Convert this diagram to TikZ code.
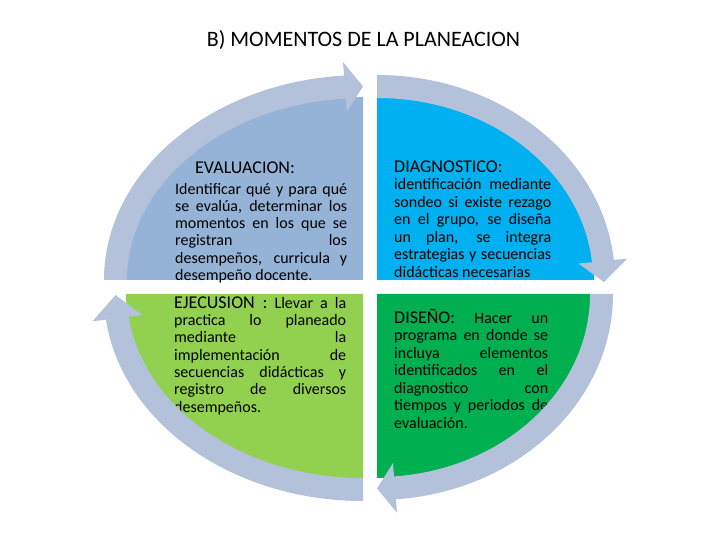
\documentclass[tikz,border=0pt]{standalone}
\usepackage{fontspec}
\setmainfont{Carlito}
\definecolor{ringc}{RGB}{179,193,219}
\definecolor{tlc}{HTML}{95B3D7}
\definecolor{trc}{HTML}{00B0F0}
\definecolor{blc}{HTML}{92D050}
\definecolor{brc}{HTML}{00B050}
\newcommand\jl[2]{\makebox[#1pt][s]{#2}}
\newcommand\hdf{\fontsize{18}{21}\selectfont}
\begin{document}
\begin{tikzpicture}[x=1pt,y=1pt,
  txt/.style={anchor=base west, inner sep=0pt, font=\fontsize{16}{19}\selectfont},
  ring/.style={fill=ringc},
  titlestyle/.style={anchor=base, inner sep=0pt, font=\fontsize{22}{26}\selectfont}]
\useasboundingbox (0,0) rectangle (728,546);
\fill[white] (0,0) rectangle (728,546);

% title
\node[titlestyle] (title) at (363.5,499) {B) MOMENTOS DE LA PLANEACION};

% pies
\begin{scope}[shift={(363,266)}]
\fill[tlc] (0,0) -- (180:237pt and 183pt) arc[start angle=180, end angle=90, x radius=237pt, y radius=183pt] -- cycle;
\end{scope}
\begin{scope}[shift={(377,266)}]
\fill[trc] (0,0) -- (90:217pt and 183pt) arc[start angle=90, end angle=0, x radius=217pt, y radius=183pt] -- cycle;
\end{scope}
\begin{scope}[shift={(377,252)}]
\fill[brc] (0,0) -- (0:214pt and 184pt) arc[start angle=0, end angle=-90, x radius=214pt, y radius=184pt] -- cycle;
\end{scope}
\begin{scope}[shift={(363,252)}]
\fill[blc] (0,0) -- (270:237pt and 185pt) arc[start angle=270, end angle=180, x radius=237pt, y radius=185pt] -- cycle;
\end{scope}

% texts top-left
\node[txt] (tl0) at (195,372.7) {\hdf EVALUACION:};
\node[txt] (tl1) at (175,351.6) {\jl{172}{Identificar qué y para qué}};
\node[txt] (tl2) at (175,334.4) {\jl{172}{se evalúa, determinar los}};
\node[txt] (tl3) at (175,317.2) {\jl{172}{momentos en los que se}};
\node[txt] (tl4) at (175,300.0) {\jl{172}{registran los}};
\node[txt] (tl5) at (175,282.8) {\jl{172}{desempeños, curricula y}};
\node[txt] (tl6) at (175,265.6) {desempeño docente.};

% texts top-right
\node[txt] (tr0) at (394,373.3) {\hdf DIAGNOSTICO:};
\node[txt] (tr1) at (394,356.0) {\jl{157}{identificación mediante}};
\node[txt] (tr2) at (394,338.5) {\jl{157}{sondeo si existe rezago}};
\node[txt] (tr3) at (394,321.0) {\jl{157}{en el grupo, se diseña}};
\node[txt] (tr4) at (394,303.6) {\jl{157}{un plan, se integra}};
\node[txt] (tr5) at (394,286.1) {\jl{157}{estrategias y secuencias}};
\node[txt] (tr6) at (394,268.7) {didácticas necesarias};

% texts bottom-left
\node[txt] (bl0) at (174,237.0) {\jl{172}{{\hdf EJECUSION :} Llevar a la}};
\node[txt] (bl1) at (174,220.3) {\jl{172}{practica lo planeado}};
\node[txt] (bl2) at (174,203.1) {\jl{172}{mediante la}};
\node[txt] (bl3) at (174,185.8) {\jl{172}{implementación de}};
\node[txt] (bl4) at (174,168.4) {\jl{172}{secuencias didácticas y}};
\node[txt] (bl5) at (174,151.0) {\jl{172}{registro de diversos}};
\node[txt] (bl6) at (174,133.6) {desempeños.};

% texts bottom-right
\node[txt] (br0) at (394,222.7) {\jl{154}{{\hdf DISEÑO:} Hacer un}};
\node[txt] (br1) at (394,205.3) {\jl{154}{programa en donde se}};
\node[txt] (br2) at (394,187.8) {\jl{154}{incluya elementos}};
\node[txt] (br3) at (394,170.3) {\jl{154}{identificados en el}};
\node[txt] (br4) at (394,152.8) {\jl{154}{diagnostico con}};
\node[txt] (br5) at (394,135.3) {\jl{154}{tiempos y periodos de}};
\node[txt] (br6) at (394,117.8) {evaluación.};

% arrows
\begin{scope}[shift={(363,266)}]
\fill[ring] (180:259pt and 205pt) arc[start angle=180, end angle=94.2, x radius=259pt, y radius=205pt]
  -- (94.2:272.5pt and 218.5pt) -- (90:247.5pt and 193.5pt) -- (94.2:222.5pt and 168.5pt)
  -- (94.2:236pt and 182pt) arc[start angle=94.2, end angle=180, x radius=236pt, y radius=182pt] -- cycle;
\end{scope}
\begin{scope}[shift={(377,266)}]
\fill[ring] (90:238pt and 205pt) arc[start angle=90, end angle=5.6, x radius=238pt, y radius=205pt]
  -- (5.6:251.5pt and 218.5pt) -- (-0.6:227pt and 193.5pt) -- (5.6:202.5pt and 168.5pt)
  -- (5.6:216pt and 182pt) arc[start angle=5.6, end angle=90, x radius=216pt, y radius=182pt] -- cycle;
\end{scope}
\begin{scope}[shift={(377,252)}]
\fill[ring] (0:236pt and 206pt) arc[start angle=0, end angle=-85.4, x radius=236pt, y radius=206pt]
  -- (-85.4:249.5pt and 219.5pt) -- (-90:224.5pt and 194.5pt) -- (-85.4:199.5pt and 169.5pt)
  -- (-85.4:213pt and 183pt) arc[start angle=-85.4, end angle=0, x radius=213pt, y radius=183pt] -- cycle;
\end{scope}
\begin{scope}[shift={(363,252)}]
\fill[ring] (270:259pt and 207pt) arc[start angle=270, end angle=187.1, x radius=259pt, y radius=207pt]
  -- (187.1:272.5pt and 220.5pt) -- (180.3:247.5pt and 195.5pt) -- (187.1:222.5pt and 170.5pt)
  -- (187.1:236pt and 184pt) arc[start angle=187.1, end angle=270, x radius=236pt, y radius=184pt] -- cycle;
\end{scope}
\end{tikzpicture}
\end{document}
